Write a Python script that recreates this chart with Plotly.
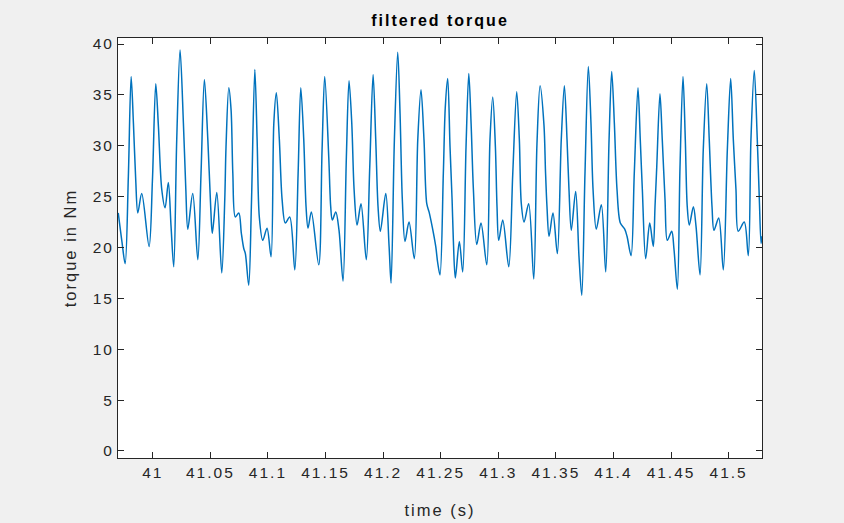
import plotly.graph_objects as go

time_s = [
    40.9700, 40.9733, 40.9760, 40.9788, 40.9812, 40.9832, 40.9852, 40.9870, 40.9904, 40.9968,
    40.9997, 41.0026, 41.0049, 41.0078, 41.0107, 41.0135, 41.0159, 41.0182, 41.0208, 41.0237,
    41.0266, 41.0287, 41.0304, 41.0347, 41.0391, 41.0419, 41.0448, 41.0478, 41.0504, 41.0517,
    41.0556, 41.0599, 41.0625, 41.0636, 41.0660, 41.0680, 41.0695, 41.0717, 41.0747, 41.0769,
    41.0790, 41.0804, 41.0833, 41.0856, 41.0886, 41.0906, 41.0925, 41.0955, 41.0992, 41.1027,
    41.1051, 41.1073, 41.1099, 41.1123, 41.1151, 41.1189, 41.1233, 41.1262, 41.1285, 41.1311,
    41.1331, 41.1348, 41.1377, 41.1441, 41.1470, 41.1493, 41.1528, 41.1545, 41.1559, 41.1589,
    41.1617, 41.1652, 41.1681, 41.1704, 41.1728, 41.1748, 41.1774, 41.1808, 41.1854, 41.1884,
    41.1913, 41.1936, 41.1956, 41.1976, 41.2023, 41.2052, 41.2069, 41.2098, 41.2127, 41.2147,
    41.2167, 41.2190, 41.2225, 41.2271, 41.2301, 41.2329, 41.2355, 41.2379, 41.2399, 41.2427,
    41.2457, 41.2474, 41.2494, 41.2523, 41.2540, 41.2561, 41.2581, 41.2599, 41.2610, 41.2627,
    41.2662, 41.2691, 41.2720, 41.2744, 41.2764, 41.2784, 41.2813, 41.2850, 41.2900, 41.2928,
    41.2952, 41.2975, 41.2989, 41.3004, 41.3039, 41.3091, 41.3126, 41.3160, 41.3183, 41.3200,
    41.3224, 41.3264, 41.3308, 41.3336, 41.3363, 41.3397, 41.3410, 41.3423, 41.3441, 41.3475,
    41.3513, 41.3547, 41.3574, 41.3597, 41.3614, 41.3634, 41.3672, 41.3701, 41.3725, 41.3753,
    41.3782, 41.3805, 41.3823, 41.3851, 41.3895, 41.3933, 41.3962, 41.3985, 41.4008, 41.4031,
    41.4060, 41.4098, 41.4118, 41.4153, 41.4181, 41.4213, 41.4233, 41.4251, 41.4280, 41.4315,
    41.4346, 41.4361, 41.4376, 41.4404, 41.4424, 41.4448, 41.4468, 41.4506, 41.4526, 41.4555,
    41.4578, 41.4604, 41.4624, 41.4641, 41.4659, 41.4694, 41.4717, 41.4752, 41.4780, 41.4810,
    41.4832, 41.4856, 41.4873, 41.4914, 41.4954, 41.4989, 41.5018, 41.5041, 41.5064, 41.5084,
    41.5136, 41.5171, 41.5194, 41.5223, 41.5249, 41.5267, 41.5282, 41.5290,
]

torque_nm = [
    23.4, 20.5, 18.4, 27.0, 36.8, 32.2, 26.6, 23.4, 25.3, 20.1,
    26.6, 36.1, 31.9, 25.7, 23.9, 26.4, 22.0, 18.1, 30.6, 39.4,
    32.2, 25.7, 21.8, 25.3, 18.8, 27.3, 36.5, 30.6, 23.7, 21.4,
    25.4, 17.5, 24.7, 29.9, 35.7, 33.5, 27.3, 23.0, 23.4, 21.4,
    19.9, 19.4, 16.3, 24.0, 37.5, 30.6, 23.0, 20.7, 21.9, 19.1,
    32.2, 35.2, 30.6, 24.7, 22.4, 23.0, 17.8, 27.3, 35.7, 30.6,
    24.0, 21.9, 23.5, 18.3, 29.6, 36.8, 28.9, 24.0, 22.7, 23.5,
    21.7, 16.7, 28.9, 36.4, 32.2, 25.7, 22.2, 24.3, 18.8, 27.9,
    37.0, 30.6, 24.0, 21.6, 25.3, 20.1, 16.5, 30.6, 39.2, 33.2,
    24.7, 20.6, 22.5, 18.9, 30.6, 35.5, 30.6, 24.3, 23.5, 22.0,
    20.1, 18.5, 17.3, 27.3, 33.8, 36.6, 29.9, 24.7, 20.7, 17.0,
    20.6, 17.6, 29.9, 37.1, 32.2, 25.7, 20.3, 22.4, 18.3, 30.6,
    34.8, 29.9, 24.0, 20.7, 22.7, 18.1, 27.3, 35.3, 30.6, 24.3,
    22.5, 24.3, 16.9, 30.2, 35.9, 32.0, 27.5, 24.0, 21.1, 23.4,
    19.4, 30.6, 35.9, 30.6, 25.7, 21.7, 25.5, 19.1, 15.3, 27.3,
    37.8, 32.2, 25.7, 21.8, 24.2, 17.6, 30.6, 37.3, 32.2, 25.7,
    22.4, 21.8, 21.1, 19.2, 27.3, 35.7, 30.6, 25.7, 18.9, 22.4,
    20.1, 24.0, 27.9, 35.1, 30.6, 24.7, 20.7, 21.6, 19.8, 15.9,
    27.9, 36.8, 30.6, 24.0, 22.2, 24.0, 22.1, 17.3, 29.6, 36.1,
    30.6, 24.0, 21.7, 22.9, 17.8, 29.6, 36.6, 30.6, 25.7, 21.6,
    22.5, 19.2, 30.6, 37.4, 30.6, 24.7, 20.4, 21.1,
]

x_tick_vals = [41.0, 41.05, 41.1, 41.15, 41.2, 41.25, 41.3, 41.35, 41.4, 41.45, 41.5]
x_tick_text = ["41", "41.05", "41.1", "41.15", "41.2", "41.25", "41.3", "41.35", "41.4", "41.45", "41.5"]
y_tick_vals = [0, 5, 10, 15, 20, 25, 30, 35, 40]

AX = "#262626"
FONT = "Liberation Sans, Arial, Helvetica, sans-serif"

fig = go.Figure()
fig.add_trace(go.Scatter(
    x=time_s, y=torque_nm, mode="lines",
    line=dict(color="#0072BD", width=1.5, shape="spline", smoothing=0.9),
    hoverinfo="skip", showlegend=False,
))

axis_common = dict(
    showgrid=False, zeroline=False, showline=True, linecolor=AX, linewidth=1,
    mirror="ticks", ticks="inside", ticklen=6, tickwidth=1, tickcolor=AX,
    tickfont=dict(family=FONT, size=15.5, color=AX), automargin=False,
)

fig.update_xaxes(
    range=[40.9698, 41.5290], tickvals=x_tick_vals, ticktext=x_tick_text,
    title=dict(text="time (s)", font=dict(family=FONT, size=16.5, color=AX), standoff=24),
    **axis_common,
)
fig.update_yaxes(
    range=[-0.69, 40.59], tickvals=y_tick_vals,
    title=dict(text="torque in Nm", font=dict(family=FONT, size=16.5, color=AX), standoff=15),
    **axis_common,
)

fig.update_layout(
    width=844, height=523,
    margin=dict(l=118, r=82, t=38, b=65),
    paper_bgcolor="#F0F0F0", plot_bgcolor="#FFFFFF",
    title=dict(text="<b>filtered torque</b>", x=0.5, xref="paper", xanchor="center",
               y=1 - 20 / 523, yref="container", yanchor="middle",
               font=dict(family=FONT, size=16, color="#000000")),
)

spacing_css = (
    "var s=document.createElement('style');"
    "s.textContent='.xtick text,.ytick text{letter-spacing:2px}"
    ".gtitle,.xtitle,.ytitle{letter-spacing:2px}';"
    "document.head.appendChild(s);"
)
fig.write_html("out.html", post_script=spacing_css)
